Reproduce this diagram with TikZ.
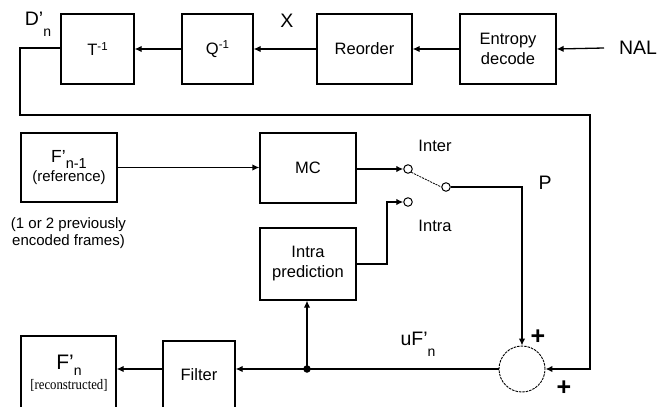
\documentclass[tikz,border=0pt]{standalone}
\usepackage{fontspec}
\setmainfont{Liberation Sans}
\newfontfamily\serifrm{Liberation Serif}
\usetikzlibrary{arrows.meta}
\begin{document}
\begin{tikzpicture}[x=1pt,y=-1pt,
  line width=1.3pt,
  box/.style={draw,line width=1.3pt,minimum width=#1,minimum height=70pt,inner sep=0pt,align=center,
     font=\fontsize{16.5}{19}\selectfont},
  box/.default=96pt,
  arr/.style={-{Latex[length=7pt,width=6.5pt]}},
  lbl/.style={inner sep=0pt,font=\fontsize{19.5}{22}\selectfont},
  sml/.style={inner sep=0pt,align=center,font=\fontsize{15}{16.5}\selectfont},
  contact/.style={circle,draw,fill=white,minimum size=8.5pt,inner sep=0pt,line width=1pt},
  plus/.style={inner sep=0pt,font=\fontsize{25}{25}\bfseries\selectfont}]
\useasboundingbox (0,0) rectangle (667,407);
\clip (0,0) rectangle (667,407);
% top row
\node[box=73pt] (T) at (97.5,49) {T\raisebox{0.6ex}{\fontsize{11.5}{11}\selectfont -1}};
\node[box=71pt] (Q) at (217.5,49) {Q\raisebox{0.6ex}{\fontsize{11.5}{11}\selectfont -1}};
\node[box=95pt] (R) at (364.5,49) {Reorder};
\node[box=96pt,font=\fontsize{16.5}{20}\selectfont] (E) at (508,49) {Entropy\\decode};
\coordinate (nalin) at (604,48);
\node[lbl] (nal) at (638,48) {NAL};
\node[lbl] (X) at (287,21) {X};
\node[lbl] (Dn) at (38,24) {D'\raisebox{-1.1ex}{\fontsize{14}{14}\selectfont n}};
\draw[arr] (nalin) -- (E.west -| E.east);
\draw[arr] (E.west) -- (R.east);
\draw[arr] (R.west) -- (Q.east);
\draw[arr] (Q.west) -- (T.east);
% middle
\node[box=96pt,minimum height=69pt,font=\fontsize{17.5}{17}\selectfont] (F1) at (69,167.5)
  {F'\raisebox{-0.6ex}{\fontsize{14.5}{14}\selectfont n-1}\\[2pt]{\fontsize{15}{17}\selectfont (reference)}};
\node[sml] (cap) at (68.5,233) {(1 or 2 previously\\encoded frames)};
\node[box=96pt] (MC) at (308,168) {MC};
\node[box=96pt,minimum height=72pt,font=\fontsize{16.5}{20}\selectfont] (IP) at (308,264) {Intra\\prediction};
\node[contact] (c1) at (408,169) {};
\node[contact] (c2) at (408,202) {};
\node[contact] (c3) at (446,187) {};
\node[sml,font=\fontsize{16.5}{19}\selectfont] (inter) at (435,146) {Inter};
\node[sml,font=\fontsize{16.5}{19}\selectfont] (intra) at (435,226) {Intra};
\node[lbl] (P) at (545,183) {P};
\draw[arr] (F1.east) -- (MC.west |- F1.east);
\draw[arr] (MC.east |- c1) -- (c1.west);
\coordinate (ipk) at (387,264);
\draw[arr] (IP.east |- ipk) -- (ipk) |- (c2.west);
\draw[line width=0.8pt,dash pattern=on 2pt off 1pt] (c1.south east) -- (c3.west);
% sum
\node[circle,draw,minimum size=46pt,inner sep=0pt,line width=0.9pt,dash pattern=on 2.5pt off 1pt] (S) at (522,369) {};
\coordinate (pk) at (522,187);
\draw[arr] (c3.east) -- (pk) -- (S.north);
\coordinate (fb1) at (20,48);
\coordinate (fb2) at (20,115);
\coordinate (fb3) at (590,115);
\coordinate (fb4) at (590,369);
\draw[arr] (T.west |- fb1) -- (fb1) -- (fb2) -- (fb3) -- (fb4) -- (S.east);
\node[plus] (p1) at (538,337) {+};
\node[plus] (p2) at (564,388) {+};
\node[lbl] (uf) at (418,344) {uF'\raisebox{-1.1ex}{\fontsize{14}{14}\selectfont n}};
% bottom
\node[draw,minimum width=95pt,minimum height=84pt,inner sep=0pt] (Fn) at (68.5,378) {};
\node[inner sep=0pt,align=center] (fntext) at (69,373)
  {{\fontsize{21}{20}\selectfont F'\raisebox{-0.5ex}{\fontsize{14}{14}\selectfont n}}\\[3pt]
   {\serifrm\fontsize{14.5}{14}\selectfont\addfontfeature{FakeStretch=0.88}[reconstructed]}};
\node[draw,minimum width=72pt,minimum height=79pt,inner sep=0pt] (Fl) at (199,380.5) {};
\node[inner sep=0pt,font=\fontsize{16.5}{19}\selectfont] (fltext) at (199,375) {Filter};
\node[circle,fill,minimum size=7.5pt,inner sep=0pt] (dot) at (307,369) {};
\draw[arr] (S.west) -- (Fl.east |- S.west);
\draw[arr] (Fl.west |- S.west) -- (Fn.east |- S.west);
\draw[arr] (dot.center) -- (IP.south -| dot);
\end{tikzpicture}
\end{document}
